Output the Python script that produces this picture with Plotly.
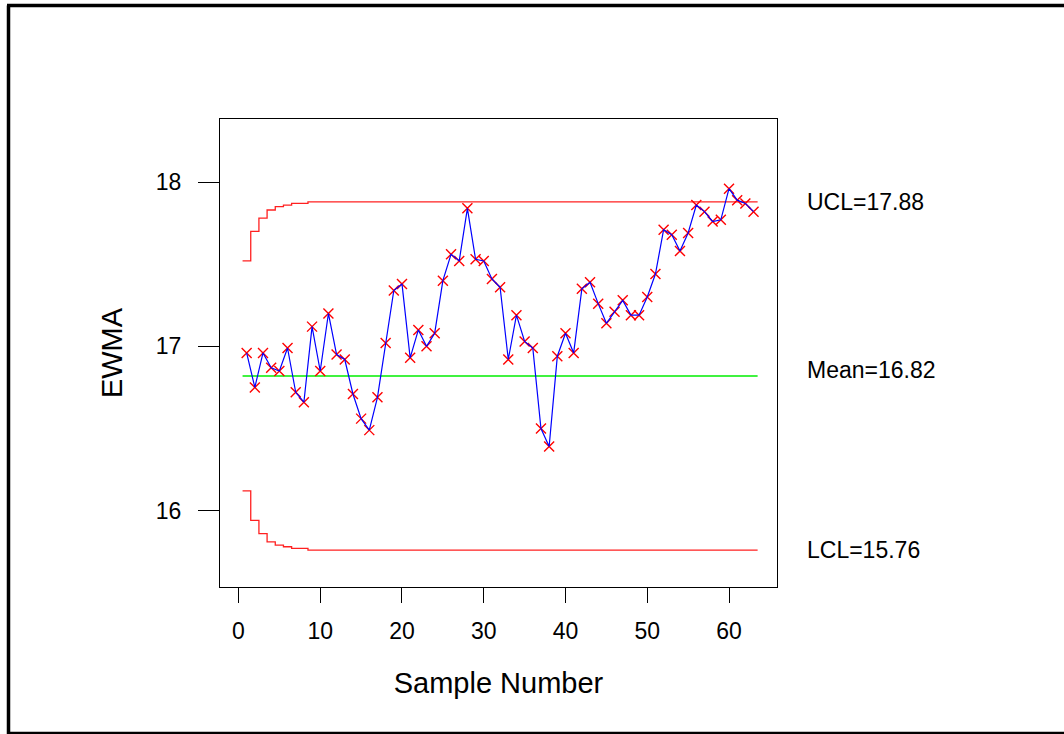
import plotly.graph_objects as go

# EWMA statistic for each sample
samples = list(range(1, 64))
ewma = [
    16.96, 16.75, 16.96, 16.87, 16.85, 16.99, 16.72, 16.66, 17.12, 16.85,
    17.20, 16.95, 16.92, 16.71, 16.56, 16.49, 16.69, 17.02, 17.34, 17.38,
    16.93, 17.10, 17.00, 17.08, 17.40, 17.56, 17.52, 17.84, 17.53, 17.52,
    17.41, 17.36, 16.92, 17.19, 17.03, 16.99, 16.50, 16.39, 16.94, 17.08,
    16.96, 17.35, 17.39, 17.26, 17.14, 17.21, 17.28, 17.19, 17.19, 17.30,
    17.44, 17.71, 17.68, 17.58, 17.69, 17.86, 17.82, 17.76, 17.77, 17.96,
    17.89, 17.87, 17.82,
]

# Control limits per sample (widen from the start, then settle)
center = 16.82
ucl = [17.52, 17.70, 17.78, 17.83, 17.85, 17.86, 17.87, 17.87] + [17.88] * 55
lcl = [16.12, 15.94, 15.86, 15.81, 15.79, 15.78, 15.77, 15.77] + [15.76] * 55

x_ticks = [0, 10, 20, 30, 40, 50, 60]
y_ticks = [16, 17, 18]

FONT = "Liberation Sans, Arial, Helvetica, sans-serif"

# step lines are centred on each sample, spanning half a sample either side
step_x = [0.5] + samples + [63.5]

fig = go.Figure()

fig.add_trace(go.Scatter(
    x=step_x, y=[ucl[0]] + ucl + [ucl[-1]], mode="lines",
    line=dict(color="#ff2020", width=1.3, shape="hvh"), hoverinfo="skip"))
fig.add_trace(go.Scatter(
    x=step_x, y=[lcl[0]] + lcl + [lcl[-1]], mode="lines",
    line=dict(color="#ff2020", width=1.3, shape="hvh"), hoverinfo="skip"))
fig.add_trace(go.Scatter(
    x=[0.5, 63.5], y=[center, center], mode="lines",
    line=dict(color="#00ee00", width=1.5), hoverinfo="skip"))

fig.add_trace(go.Scatter(
    x=samples, y=ewma, mode="markers",
    marker=dict(symbol="x-thin", size=10, line=dict(color="#ff0000", width=1.4))))
fig.add_trace(go.Scatter(
    x=samples, y=ewma, mode="lines",
    line=dict(color="#0000ff", width=1.2)))

label_font = dict(family=FONT, size=23, color="black")
for y_val, text in [(ucl[-1], f"UCL={ucl[-1]:.2f}"),
                    (center + 0.037, f"Mean={center:.2f}"),
                    (lcl[-1], f"LCL={lcl[-1]:.2f}")]:
    fig.add_annotation(x=(805 - 220) / 557, xref="paper", y=y_val, yref="y",
                       text=text, showarrow=False, xanchor="left",
                       yanchor="middle", font=label_font)

# outer frame of the figure
fig.add_shape(type="line", xref="paper", yref="paper",
              x0=(8.5 - 220) / 557, x1=(8.5 - 220) / 557,
              y0=(587 - 5.5) / 468, y1=(587 - 740) / 468,
              line=dict(color="black", width=3.5))
fig.add_shape(type="line", xref="paper", yref="paper",
              x0=(7 - 220) / 557, x1=(1070 - 220) / 557,
              y0=(587 - 5.5) / 468, y1=(587 - 5.5) / 468,
              line=dict(color="black", width=3.5))
fig.add_shape(type="line", xref="paper", yref="paper",
              x0=(7 - 220) / 557, x1=(1070 - 220) / 557,
              y0=(587 - 733) / 468, y1=(587 - 733) / 468,
              line=dict(color="black", width=2.5))

fig.update_layout(
    width=1064, height=734, autosize=False,
    margin=dict(l=220, r=287, t=119, b=147, pad=0),
    paper_bgcolor="white", plot_bgcolor="white",
    showlegend=False,
    font=dict(family=FONT, color="black"),
    xaxis=dict(
        range=[-2.26, 65.87], tickvals=x_ticks, ticks="outside", ticklen=15,
        tickcolor="black", tickwidth=1, showgrid=False, zeroline=False,
        showline=True, mirror=True, linecolor="black", linewidth=1,
        tickfont=dict(size=23), ticklabelstandoff=8,
        title=dict(text="Sample Number", font=dict(size=29), standoff=30),
    ),
    yaxis=dict(
        range=[15.535, 18.384], tickvals=y_ticks, ticks="outside", ticklen=21,
        tickcolor="black", tickwidth=1, showgrid=False, zeroline=False,
        showline=True, mirror=True, linecolor="black", linewidth=1,
        tickfont=dict(size=23), ticklabelstandoff=12,
        title=dict(text="EWMA", font=dict(size=29), standoff=24),
    ),
)

fig.write_html("out.html")
